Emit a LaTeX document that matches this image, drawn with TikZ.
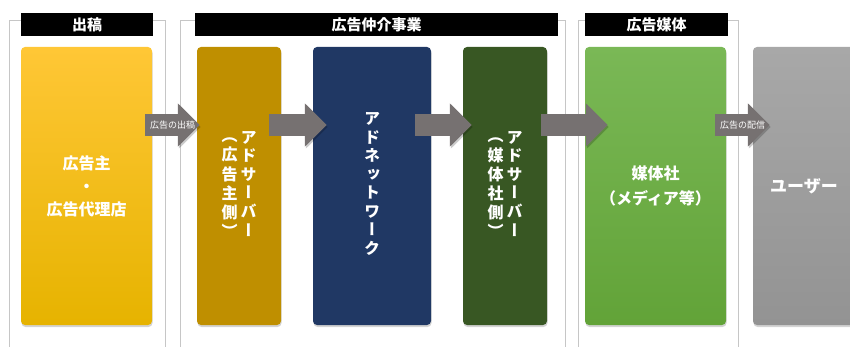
\documentclass[tikz,border=0pt]{standalone}
\usepackage{fontspec}
\newfontfamily\jp{Noto Sans CJK JP}
\newfontfamily\jptate[RawFeature=+vert]{Noto Sans CJK JP}
\usetikzlibrary{arrows.meta,shadows}
\definecolor{ylwtop}{HTML}{FFC736}
\definecolor{ylwbot}{HTML}{E6B300}
\definecolor{gold}{HTML}{BF8F00}
\definecolor{navy}{HTML}{203864}
\definecolor{darkgreen}{HTML}{385723}
\definecolor{grntop}{HTML}{7AB856}
\definecolor{grnbot}{HTML}{62A338}
\definecolor{usrtop}{HTML}{A8A8A8}
\definecolor{usrbot}{HTML}{939393}
\definecolor{arrowgray}{HTML}{767171}
\newcommand{\tatecol}[1]{\begin{tabular}{@{}c@{}}#1\end{tabular}}

\begin{document}
\begin{tikzpicture}[x=1pt,y=-1pt,
  box/.style={rounded corners=4pt, inner sep=0pt, minimum height=278pt, text=white,
    drop shadow={shadow xshift=0.5pt, shadow yshift=-2pt, opacity=.35}},
  yoko/.style={font=\jp\bfseries\fontsize{16}{23}\selectfont, align=center},
  tate/.style={font=\jptate\bfseries\fontsize{16}{18.5}\selectfont},
  frame/.style={draw=gray!45, line width=1pt},
  head/.style={fill=black, text=white, inner sep=0pt, minimum height=23pt,
    font=\jp\bfseries\fontsize{15}{15}\selectfont},
  flow/.style={draw=arrowgray, line width=22pt, -{Triangle[length=22pt,width=42pt]},
    preaction={draw=black, opacity=.2, transform canvas={shift={(1pt,-2pt)}}}},
  arrlabel/.style={text=white, inner sep=0pt, font=\jp\fontsize{9}{9}\selectfont}]
\useasboundingbox (0,0) rectangle (850,347);
\clip (0,0) rectangle (850,347);

% group frames
\draw[frame] (9,347) -- (9,21) -- (165,21) -- (165,347);
\draw[frame] (180,347) -- (180,21) -- (565,21) -- (565,347);
\draw[frame] (578,347) -- (578,21) -- (738,21) -- (738,347);

% group headers
\node[head, minimum width=132pt] (hShutsu) at (87,24.5) {出稿};
\node[head, minimum width=363pt] (hChukai) at (376.5,24.5) {広告仲介事業};
\node[head, minimum width=143pt] (hBaitai) at (656.5,24.5) {広告媒体};

% boxes
\node[box, yoko, minimum width=131pt, top color=ylwtop, bottom color=ylwbot] (ylw) at (86.5,186)
  {広告主\\・\\広告代理店};
\node[box, tate, minimum width=84pt, fill=gold] (srvA) at (239,186)
  {\tatecol{（\\広\\告\\主\\側\\）}\hspace{3pt}\tatecol{ア\\ド\\サ\\ー\\バ\\ー}};
\node[box, tate, minimum width=118pt, fill=navy] (adnw) at (372,186)
  {\tatecol{ア\\ド\\ネ\\ッ\\ト\\ワ\\ー\\ク}};
\node[box, tate, minimum width=84pt, fill=darkgreen] (srvB) at (505,186)
  {\tatecol{（\\媒\\体\\社\\側\\）}\hspace{3pt}\tatecol{ア\\ド\\サ\\ー\\バ\\ー}};
\node[box, yoko, font=\jp\bfseries\fontsize{16}{25}\selectfont, minimum width=141pt,
  top color=grntop, bottom color=grnbot] (media) at (655.5,186) {媒体社\\（メディア等）};
\node[box, yoko, font=\jp\bfseries\fontsize{17}{17}\selectfont, minimum width=102pt,
  top color=usrtop, bottom color=usrbot] (user) at (804,186) {ユーザー};

% flow arrows
\draw[flow] ([shift={(-7,-61)}]ylw.east) -- ([shift={(3,-61)}]srvA.west)
  node[midway, arrlabel] {広告の出稿};
\draw[flow] ([shift={(-12,-61)}]srvA.east) -- ([shift={(14,-61)}]adnw.west);
\draw[flow] ([shift={(-16,-61)}]adnw.east) -- ([shift={(9,-61)}]srvB.west);
\draw[flow] ([shift={(-6,-61)}]srvB.east) -- ([shift={(23,-61)}]media.west);
\draw[flow] ([shift={(-11,-61)}]media.east) -- ([shift={(17,-61)}]user.west)
  node[midway, arrlabel] {広告の配信};
\end{tikzpicture}
\end{document}
